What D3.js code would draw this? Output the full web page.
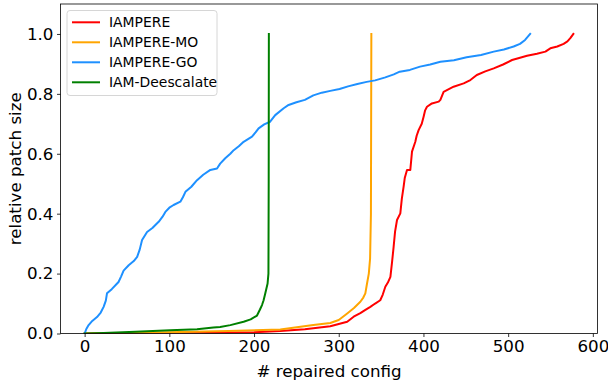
<!DOCTYPE html>
<html><head><meta charset="utf-8">
<script src="https://cdn.jsdelivr.net/npm/d3@7"></script>
<style>body{margin:0;background:#fff}svg{display:block}text{font-family:"DejaVu Sans",sans-serif}</style>
</head><body><svg id="c" width="608" height="383"></svg>
<script>
const seriesNames = ["IAMPERE", "IAMPERE-MO", "IAMPERE-GO", "IAM-Deescalate"];
const seriesColors = ["#ff0000", "#ffa500", "#1e90ff", "#008000"];
const xTicks = [0, 100, 200, 300, 400, 500, 600];
const yTicks = [0.0, 0.2, 0.4, 0.6, 0.8, 1.0];

const iampere = [[0,0],[50,0.0005],[100,0.001],[150,0.002],[200,0.004],[231,0.008],[260,0.014],[290,0.024],[310,0.039],[317.6,0.056],[325.5,0.068],[331,0.078],[337.3,0.089],[343,0.1],[349,0.111],[352,0.13],[355,0.156],[358,0.17],[361,0.189],[363,0.24],[364.8,0.289],[366.5,0.34],[368.8,0.379],[372.7,0.401],[374.5,0.45],[376.6,0.49],[378,0.52],[380.6,0.546],[384.5,0.546],[386.5,0.607],[390.4,0.64],[392,0.66],[394.3,0.679],[398,0.7],[400.2,0.724],[402,0.745],[404.2,0.757],[410,0.768],[418,0.774],[420,0.78],[423.8,0.807],[435.6,0.824],[447.5,0.835],[455.4,0.846],[463,0.863],[473,0.875],[483,0.885],[494,0.898],[504.6,0.913],[513,0.92],[522.3,0.927],[534,0.934],[544,0.941],[549.8,0.952],[558,0.958],[565.5,0.967],[570,0.975],[573.4,0.986],[577,1.0]];
const iampereMO = [[0,0],[50,0.002],[113,0.005],[170,0.008],[231,0.013],[270,0.028],[290,0.035],[300,0.045],[310,0.067],[318,0.085],[325.5,0.106],[329,0.12],[331.4,0.134],[333.4,0.167],[335.5,0.2],[337,0.25],[338,0.4],[338.5,1.0]];
const iampereGO = [[0,0],[2,0.015],[4.7,0.028],[9,0.042],[14.6,0.055],[19,0.07],[22.4,0.089],[25,0.11],[26.4,0.134],[32,0.148],[40,0.172],[43,0.19],[46,0.21],[52,0.228],[58,0.242],[62,0.256],[65,0.28],[67.8,0.312],[73.7,0.339],[80,0.352],[87.4,0.373],[92,0.39],[95.3,0.406],[100,0.42],[105,0.429],[113,0.44],[116,0.455],[119,0.473],[126,0.49],[132.7,0.512],[140,0.53],[148.4,0.546],[156.3,0.551],[160,0.567],[166,0.585],[172,0.6],[176,0.612],[182,0.625],[187.7,0.64],[197.6,0.657],[202,0.672],[205.4,0.685],[212,0.698],[219,0.707],[222,0.718],[225,0.729],[235,0.752],[240.8,0.763],[250,0.772],[260,0.78],[270,0.795],[280,0.804],[290,0.81],[301,0.816],[311,0.825],[322,0.833],[333,0.84],[343,0.845],[355,0.855],[365,0.865],[372,0.874],[384,0.88],[396,0.891],[408,0.898],[420,0.907],[436,0.912],[451,0.922],[468,0.93],[483,0.941],[495,0.948],[506.5,0.958],[514,0.967],[520,0.98],[526,1.0]];
const iamDeescalate = [[0,0],[22.4,0.002],[60,0.006],[101,0.011],[132.7,0.014],[152,0.02],[160,0.022],[172,0.028],[187.7,0.039],[196,0.047],[203.5,0.06],[207,0.08],[209.4,0.095],[211.3,0.111],[213.3,0.134],[216,0.167],[217,0.2],[217.3,0.5],[217.5,1.0]];
const seriesData = [iampere, iampereMO, iampereGO, iamDeescalate];

const L = 60.5, R = 597.5, T = 4, B = 333.5;
const svg = d3.select("#c");
const x = d3.scaleLinear().domain([-28.5, 605.5]).range([L, R]);
const y = d3.scaleLinear().domain([0, 1.1]).range([B, T]);

svg.append("defs").append("clipPath").attr("id","clip").append("rect")
  .attr("x", L).attr("y", T).attr("width", R-L).attr("height", B-T);

const line = d3.line().x(d => x(d[0])).y(d => y(d[1]));
const g = svg.append("g").attr("clip-path","url(#clip)");
seriesData.forEach((d, i) => {
  g.append("path").datum(d).attr("d", line).attr("fill","none")
   .attr("stroke", seriesColors[i]).attr("stroke-width", 2).attr("stroke-linejoin","round").attr("stroke-linecap","square");
});

// frame
svg.append("rect").attr("x", L).attr("y", T).attr("width", R-L).attr("height", B-T)
  .attr("fill","none").attr("stroke","#000").attr("stroke-width",0.8);

const xAxis = svg.append("g").attr("transform", `translate(0,${B})`)
  .call(d3.axisBottom(x).tickValues(xTicks).tickSize(3.5).tickPadding(3.5).tickFormat(d3.format("d")));
const yAxis = svg.append("g").attr("transform", `translate(${L},0)`)
  .call(d3.axisLeft(y).tickValues(yTicks).tickSize(3.5).tickPadding(3.5).tickFormat(d3.format(".1f")));
[xAxis, yAxis].forEach(a => {
  a.select(".domain").remove();
  a.selectAll(".tick line").attr("stroke","#000").attr("stroke-width",0.8);
  a.selectAll(".tick text").attr("fill","#000").style("font-size","16.7px").style("font-family","DejaVu Sans");
});

svg.append("text").attr("x", (L+R)/2).attr("y", 377).attr("text-anchor","middle")
  .style("font-size","16.7px").text("# repaired config");
svg.append("text").attr("transform", `translate(21,${(T+B)/2}) rotate(-90)`).attr("text-anchor","middle")
  .style("font-size","16.7px").text("relative patch size");

// legend
const lg = svg.append("g");
lg.append("rect").attr("x", 67).attr("y", 10.5).attr("width", 150).attr("height", 85).attr("rx", 3)
  .attr("fill","#fff").attr("fill-opacity",0.8).attr("stroke","#cccccc").attr("stroke-width",0.8);
seriesNames.forEach((n, i) => {
  const cy = 22.3 + i*20;
  lg.append("line").attr("x1",72).attr("x2",100).attr("y1",cy).attr("y2",cy)
    .attr("stroke", seriesColors[i]).attr("stroke-width",2);
  lg.append("text").attr("x",109).attr("y",cy).attr("dy","0.36em").style("font-size","13.9px").text(n);
});
</script></body></html>
